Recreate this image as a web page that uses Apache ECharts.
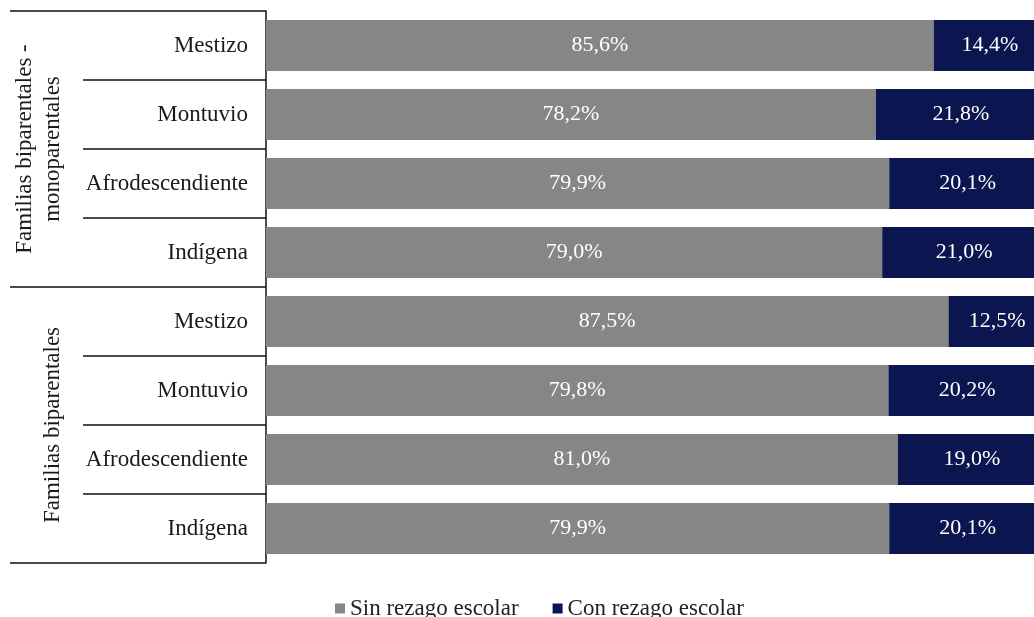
<!DOCTYPE html>
<html>
<head>
<meta charset="utf-8">
<script src="https://cdn.jsdelivr.net/npm/echarts@6/dist/echarts.min.js"></script>
<style>
  html, body { margin: 0; padding: 0; background: #ffffff; }
  #chart { width: 1034px; height: 617px; }
</style>
</head>
<body>
<div id="chart"></div>
<script>
// Ethnic groups, repeated for each family type (top to bottom)
const categories = [
  'Mestizo', 'Montuvio', 'Afrodescendiente', 'Indígena',
  'Mestizo', 'Montuvio', 'Afrodescendiente', 'Indígena'
];
// Family-type groups spanning four rows each
const groups = ['Familias biparentales -\nmonoparentales', 'Familias biparentales'];
// Share of students without / with school lag (%)
const sinRezago = [85.6, 78.2, 79.9, 79.0, 87.5, 79.8, 81.0, 79.9];
const conRezago = [14.4, 21.8, 20.1, 21.0, 12.5, 20.2, 19.0, 20.1];
const seriesNames = ['Sin rezago escolar', 'Con rezago escolar'];

const FONT = "'Liberation Serif', 'Times New Roman', serif";
const fmt = p => p.value.toFixed(1).replace('.', ',') + '%';

const chart = echarts.init(document.getElementById('chart'), null, { renderer: 'canvas' });

chart.setOption({
  animation: false,
  backgroundColor: '#ffffff',
  // plot runs past the right edge of the canvas
  grid: { left: 266, top: 11, width: 780, height: 552, containLabel: false, outerBoundsMode: 'none' },
  legend: {
    data: seriesNames,
    left: 330,
    top: 592,
    icon: 'rect',
    itemWidth: 10,
    itemHeight: 10,
    itemGap: 34,
    textStyle: { fontFamily: FONT, fontSize: 23, color: '#222222' }
  },
  xAxis: {
    type: 'value', min: 0, max: 100, show: false
  },
  yAxis: [
    {
      type: 'category',
      data: categories,
      inverse: true,
      position: 'left',
      axisLine: { show: true, lineStyle: { color: '#111111', width: 1.5 } },
      axisTick: { show: true, interval: 0, length: 183, lineStyle: { color: '#111111', width: 1.5 } },
      axisLabel: { interval: 0, margin: 18, fontFamily: FONT, fontSize: 23, color: '#1a1a1a' }
    },
    {
      type: 'category',
      data: groups,
      inverse: true,
      position: 'left',
      offset: 0,
      axisLine: { show: false },
      axisTick: { show: true, interval: 0, length: 256, lineStyle: { color: '#111111', width: 1.5 } },
      axisLabel: {
        interval: 0, rotate: 90, margin: 199,
        fontFamily: FONT, fontSize: 23, lineHeight: 28, color: '#1a1a1a', align: 'center'
      }
    }
  ],
  series: [
    {
      name: seriesNames[0],
      type: 'bar',
      stack: 'total',
      yAxisIndex: 0,
      barCategoryGap: '26%',
      data: sinRezago,
      itemStyle: { color: '#868686' },
      label: { show: true, position: 'inside', formatter: fmt, fontFamily: FONT, fontSize: 22, color: '#ffffff' }
    },
    {
      name: seriesNames[1],
      type: 'bar',
      stack: 'total',
      yAxisIndex: 0,
      barCategoryGap: '26%',
      data: conRezago,
      itemStyle: { color: '#0b1550' },
      label: { show: true, position: 'inside', formatter: fmt, fontFamily: FONT, fontSize: 22, color: '#ffffff' }
    }
  ]
});
</script>
</body>
</html>
